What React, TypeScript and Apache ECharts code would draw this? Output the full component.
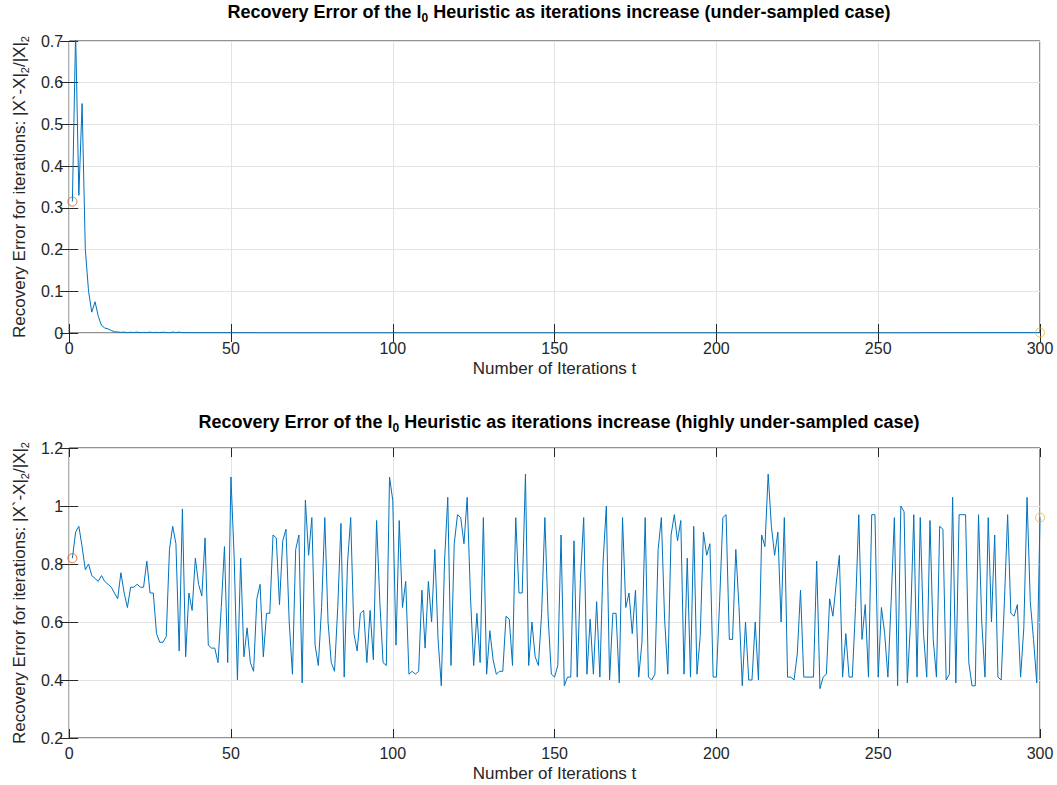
import React, { useEffect, useRef } from "react";
import * as echarts from "echarts";

// Iterations t of the under-sampled run (sparse once the error has converged).
const underIter = [
  1, 2, 3, 4, 5, 6, 7, 8, 9, 10,
  11, 12, 13, 14, 15, 16, 17, 18, 19, 20,
  21, 22, 23, 24, 25, 26, 27, 28, 29, 30,
  31, 32, 33, 34, 35, 40, 60, 100, 150, 200, 250, 300,
];
const underError = [
  0.315, 0.72, 0.33, 0.55, 0.2, 0.1, 0.05, 0.075, 0.04, 0.018,
  0.012, 0.01, 0.006, 0.003, 0.0025, 0.0015, 0.002, 0.001, 0.0018, 0.0012,
  0.002, 0.001, 0.0015, 0.0012, 0.002, 0.001, 0.0016, 0.0011, 0.0018, 0.0012,
  0.0006, 0.0022, 0.0012, 0.002, 0.0009, 0.0006, 0.0004, 0.0003, 0.0003, 0.0002, 0.0002, 0.001,
];

// Highly under-sampled run, one value per iteration t = 1..300.
const highlyUnderError = [
  0.82, 0.91, 0.93, 0.86, 0.78, 0.80, 0.76, 0.75, 0.74, 0.76,
  0.74, 0.73, 0.72, 0.70, 0.68, 0.77, 0.70, 0.65, 0.72, 0.72,
  0.73, 0.72, 0.72, 0.81, 0.70, 0.70, 0.56, 0.53, 0.53, 0.55,
  0.85, 0.93, 0.87, 0.50, 0.99, 0.48, 0.70, 0.64, 0.82, 0.73,
  0.69, 0.89, 0.52, 0.51, 0.51, 0.46, 0.65, 0.86, 0.46, 1.10,
  0.82, 0.40, 0.82, 0.48, 0.58, 0.46, 0.43, 0.68, 0.73, 0.48,
  0.63, 0.63, 0.90, 0.89, 0.66, 0.88, 0.92, 0.60, 0.42, 0.85,
  0.90, 0.39, 1.02, 0.83, 0.96, 0.52, 0.45, 0.65, 0.96, 0.60,
  0.46, 0.43, 0.65, 0.94, 0.41, 0.80, 0.96, 0.56, 0.50, 0.63,
  0.64, 0.46, 0.64, 0.47, 0.95, 0.67, 0.46, 0.45, 1.10, 1.02,
  0.52, 0.95, 0.65, 0.74, 0.42, 0.43, 0.42, 0.43, 0.71, 0.51,
  0.74, 0.60, 0.85, 0.54, 0.38, 0.81, 1.03, 0.45, 0.87, 0.97,
  0.96, 0.87, 1.03, 0.69, 0.45, 0.63, 0.46, 0.96, 0.42, 0.57,
  0.47, 0.42, 0.43, 0.43, 0.62, 0.61, 0.45, 0.96, 0.70, 0.70,
  1.11, 0.45, 0.60, 0.48, 0.45, 0.63, 0.96, 0.62, 0.42, 0.41,
  0.45, 0.90, 0.38, 0.41, 0.41, 0.88, 0.41, 0.75, 0.96, 0.42,
  0.61, 0.42, 0.67, 0.41, 0.81, 1.00, 0.40, 0.63, 0.63, 0.39,
  0.96, 0.65, 0.70, 0.56, 0.71, 0.41, 0.53, 0.96, 0.41, 0.40,
  0.42, 0.85, 0.96, 0.61, 0.42, 0.90, 0.97, 0.88, 0.95, 0.42,
  0.82, 0.41, 0.93, 0.42, 0.55, 0.91, 0.83, 0.87, 0.41, 0.41,
  0.67, 0.96, 0.97, 0.54, 0.54, 0.85, 0.65, 0.38, 0.60, 0.40,
  0.40, 0.60, 0.40, 0.90, 0.86, 1.11, 0.93, 0.83, 0.91, 0.60,
  0.96, 0.41, 0.41, 0.40, 0.49, 0.71, 0.41, 0.41, 0.41, 0.41,
  0.81, 0.37, 0.41, 0.42, 0.68, 0.62, 0.73, 0.83, 0.41, 0.56,
  0.41, 0.41, 0.65, 0.97, 0.54, 0.66, 0.41, 0.97, 0.97, 0.41,
  0.65, 0.56, 0.41, 0.67, 0.96, 0.38, 1.00, 0.98, 0.39, 0.60,
  0.97, 0.41, 0.96, 0.56, 0.41, 0.95, 0.54, 0.41, 0.93, 0.92,
  0.40, 0.42, 1.03, 0.39, 0.97, 0.97, 0.97, 0.46, 0.38, 0.38,
  0.97, 0.60, 0.41, 0.96, 0.60, 0.90, 0.41, 0.40, 0.67, 0.97,
  0.63, 0.62, 0.66, 0.41, 0.58, 1.03, 0.67, 0.54, 0.39, 0.96,
];

const titleUnder = ["Recovery Error of the l", "0", " Heuristic as iterations increase (under-sampled case)"];
const titleHighly = ["Recovery Error of the l", "0", " Heuristic as iterations increase (highly under-sampled case)"];
const xName = "Number of Iterations t";
const yNameParts = ["Recovery Error for iterations: |X`-X|", "2", "/|X|", "2"];

const FONT = "'Liberation Sans', Arial, Helvetica, sans-serif";
const INK = "#262626";
const LINE = "#0072BD";
const START = "#D95319";
const END = "#EDB120";

function App() {
  const ref = useRef<HTMLDivElement>(null);

  useEffect(() => {
    if (!ref.current) return;
    const chart = echarts.init(ref.current, null, { renderer: "svg" });

    const underData = underIter.map((t, i) => [t, underError[i]]);
    const highlyData = highlyUnderError.map((v, i) => [i + 1, v]);

    const subRich = (bold: boolean, size: number, drop: number) => ({
      a: { fontSize: size, fontWeight: bold ? "bold" : "normal", color: bold ? "#000" : INK, fontFamily: FONT, lineHeight: size + 4 },
      s: { fontSize: size - 6, fontWeight: bold ? "bold" : "normal", color: bold ? "#000" : INK, fontFamily: FONT, lineHeight: size - 6, padding: [drop, 0, 0, 0] },
    });

    const titleText = (p: string[]) => `{a|${p[0]}}{s|${p[1]}}{a|${p[2]}}`;
    const yNameText = `{a|${yNameParts[0]}}{s|${yNameParts[1]}}{a|${yNameParts[2]}}{s|${yNameParts[3]}}`;

    const grids = [
      { left: 68, right: 17, top: 41, height: 292 },
      { left: 68, right: 17, top: 448, height: 290 },
    ].map((g) => ({ ...g, show: true, borderColor: INK, borderWidth: 1, backgroundColor: "#fff" }));

    const tick = { show: true, inside: true, length: 9, lineStyle: { color: INK, width: 1 } };
    const split = { show: true, lineStyle: { color: "#e3e3e3", width: 1 } };
    const label = { color: INK, fontSize: 16, fontFamily: FONT };

    const xAxes: any[] = [];
    const yAxes: any[] = [];
    const yRanges = [
      { min: 0, max: 0.7, interval: 0.1 },
      { min: 0.2, max: 1.2, interval: 0.2 },
    ];
    [0, 1].forEach((g) => {
      xAxes.push({
        type: "value", gridIndex: g, position: "bottom", min: 0, max: 300, interval: 50,
        axisLine: { show: false }, axisTick: tick, splitLine: split,
        axisLabel: { ...label, margin: 7 },
        name: xName, nameLocation: "middle", nameGap: 27,
        nameTextStyle: { color: INK, fontSize: 17, fontFamily: FONT },
      });
      xAxes.push({
        type: "value", gridIndex: g, position: "top", min: 0, max: 300, interval: 50,
        axisLine: { show: false }, axisTick: tick, splitLine: { show: false }, axisLabel: { show: false },
      });
      yAxes.push({
        type: "value", gridIndex: g, position: "left", ...yRanges[g],
        axisLine: { show: false }, axisTick: tick, splitLine: split,
        axisLabel: { ...label, margin: 6 },
        name: yNameText, nameLocation: "middle", nameRotate: 90, nameGap: 33,
        nameTextStyle: { rich: subRich(false, 17, 11) },
      });
      yAxes.push({
        type: "value", gridIndex: g, position: "right", ...yRanges[g],
        axisLine: { show: false }, axisTick: tick, splitLine: { show: false }, axisLabel: { show: false },
      });
    });

    const marker = (pt: number[], color: string, xi: number, yi: number) => ({
      type: "scatter", xAxisIndex: xi, yAxisIndex: yi, data: [pt], symbol: "circle", symbolSize: 9, clip: false,
      itemStyle: { color: "rgba(0,0,0,0)", borderColor: color, borderWidth: 1 }, z: 5,
    });

    chart.setOption({
      animation: false,
      backgroundColor: "#fff",
      title: [
        { text: titleText(titleUnder), left: 554, top: -4, textAlign: "center", textStyle: { rich: subRich(true, 18, 12) } },
        { text: titleText(titleHighly), left: 554, top: 406, textAlign: "center", textStyle: { rich: subRich(true, 18, 12) } },
      ],
      grid: grids,
      xAxis: xAxes,
      yAxis: yAxes,
      series: [
        { type: "line", xAxisIndex: 0, yAxisIndex: 0, data: underData, showSymbol: false, lineStyle: { color: LINE, width: 1 }, itemStyle: { color: LINE } },
        marker(underData[0], START, 0, 0),
        marker(underData[underData.length - 1], END, 0, 0),
        { type: "line", xAxisIndex: 2, yAxisIndex: 2, data: highlyData, showSymbol: false, lineStyle: { color: LINE, width: 1 }, itemStyle: { color: LINE } },
        marker(highlyData[0], START, 2, 2),
        marker(highlyData[highlyData.length - 1], END, 2, 2),
      ],
    });

    return () => chart.dispose();
  }, []);

  return <div ref={ref} style={{ position: "absolute", left: 0, top: 0, width: 1057, height: 785 }} />;
}

export default App;
